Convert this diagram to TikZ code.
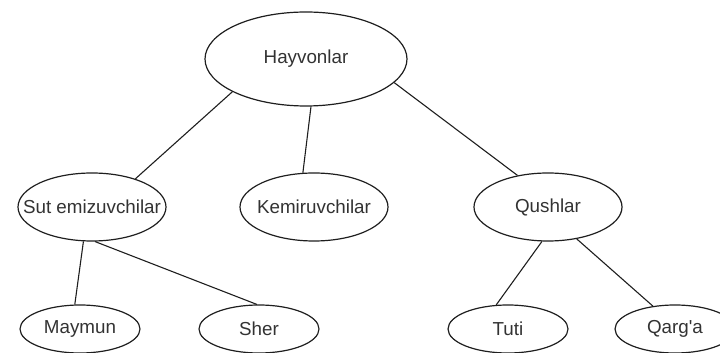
\documentclass[tikz,border=0pt]{standalone}
\usepackage{fontspec}
\setmainfont{Liberation Sans}[Ligatures=TeXOff]
\usetikzlibrary{shapes.geometric}
\definecolor{inktext}{HTML}{333333}
\definecolor{inkline}{HTML}{1E1E1E}
\tikzset{
  oval/.style={ellipse, draw=inkline, line width=1.2pt, fill=white, inner sep=0pt,
    label={[text=inktext, font=\fontsize{18.8}{22}\selectfont, inner sep=0pt]center:#1}},
  bigoval/.style={oval=#1, minimum width=202pt, minimum height=94pt},
  midoval/.style={oval=#1, minimum width=148pt, minimum height=68pt},
  leafoval/.style={oval=#1, minimum width=120pt, minimum height=48pt},
  link/.style={draw=inkline, line width=1.1pt}
}
\begin{document}
\begin{tikzpicture}[x=1pt, y=1pt]
\useasboundingbox (0,0) rectangle (720,353);
\clip (0,0) rectangle (720,353);

% root
\node[bigoval={Hayvonlar}] (hay) at (306,294) {};

% middle row
\node[midoval={Sut emizuvchilar}] (sut) at (92,146) {};
\node[midoval={Kemiruvchilar}] (kem) at (314,146) {};
\node[midoval={Qushlar}] (qus) at (548,146) {};

% leaves
\node[leafoval={Maymun}] (may) at (80,24) {};
\node[leafoval={Sher}] (she) at (259,24) {};
\node[leafoval={Tuti}] (tut) at (508,24) {};
\node[leafoval={Qarg'a}] (qar) at (675,24) {};

% connectors
\draw[link] (hay.204) -- (sut.33);
\draw[link] (hay.276) -- (kem.108);
\draw[link] (hay.-15) -- (qus.134);
\draw[link] (sut.256) -- (may.102);
\draw[link] (sut.275) -- (she.95);
\draw[link] (qus.260) -- (tut.116);
\draw[link] (qus.312) -- (qar.134);
\end{tikzpicture}
\end{document}
